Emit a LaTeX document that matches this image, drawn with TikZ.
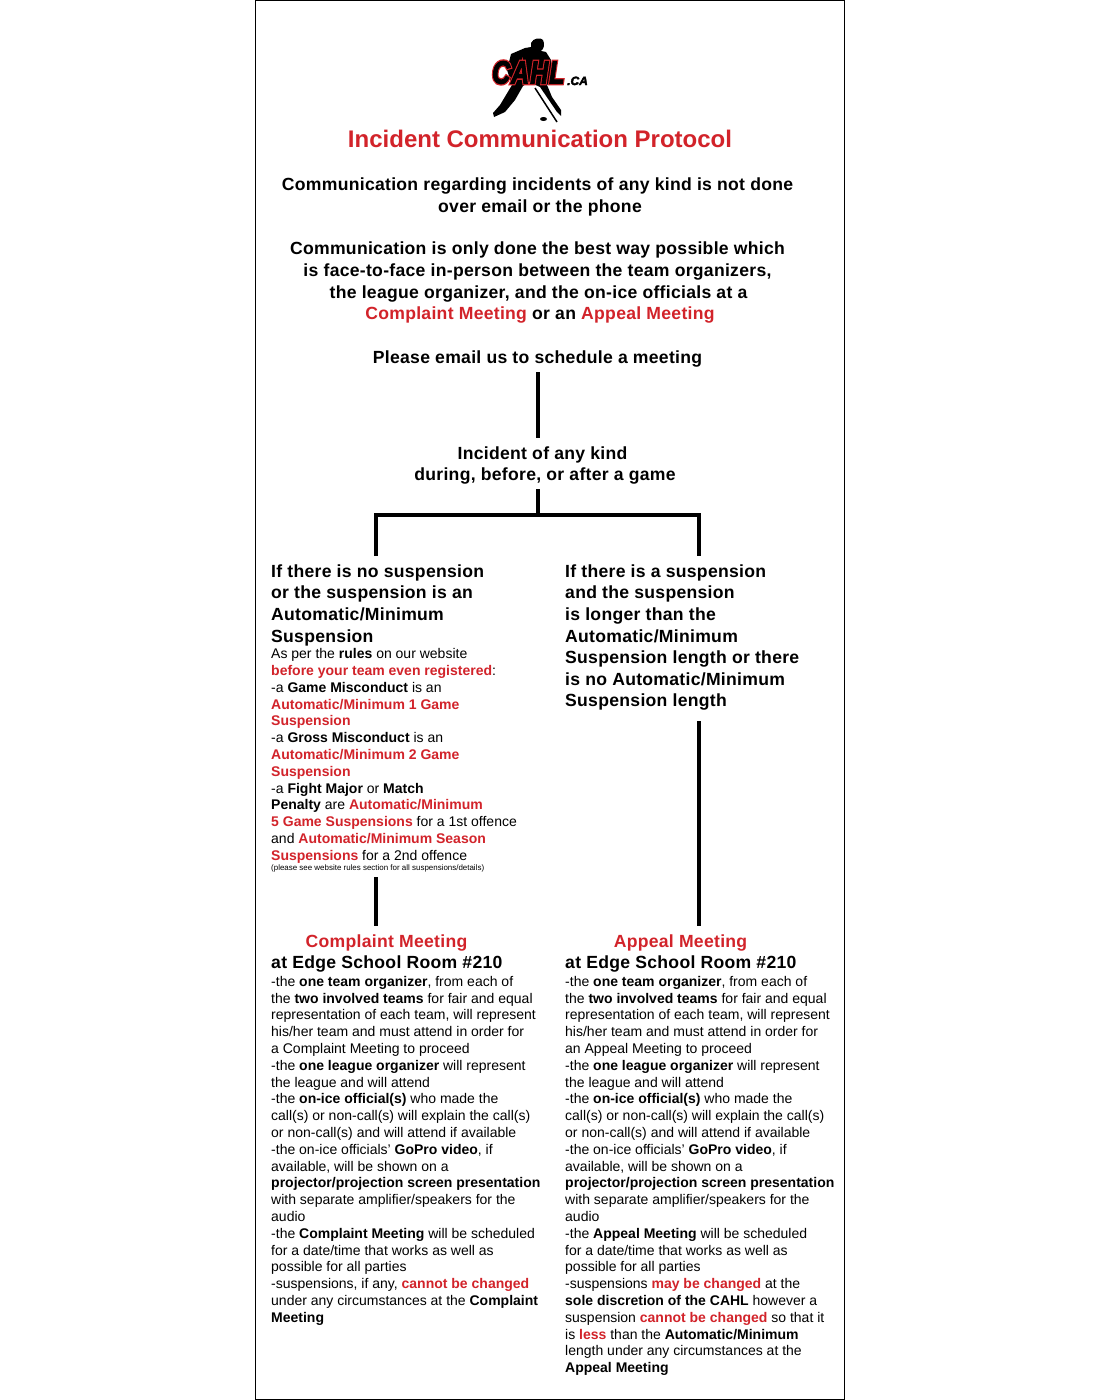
\documentclass[tikz,border=0pt]{standalone}
\usepackage{fontspec}
\setmainfont{Liberation Sans}
\newfontfamily\headfont[LetterSpace=1.6]{Liberation Sans}
\newfontfamily\logofont[LetterSpace=4]{Liberation Sans}
\definecolor{cahlred}{HTML}{D2232A}
\newcommand{\rd}[1]{{\color{cahlred}\bfseries #1}}
\newcommand{\bd}[1]{{\bfseries #1}}
\newcommand{\fb}{\rule{0pt}{20pt}}
\newcommand{\stroked}[3]{\special{pdf:code q 2 Tr #1 w #2 RG}#3\special{pdf:code 0 Tr Q}}
\tikzset{
  headtext/.style={inner sep=0pt,font=\headfont\bfseries\fontsize{17.6}{21.6}\selectfont},
  bodytext/.style={inner sep=0pt,anchor=north west,align=left,font=\fontsize{14}{16.8}\selectfont},
  heada/.style={headtext,anchor=north,align=center},
  headl/.style={headtext,anchor=north west,align=left},
  link/.style={line width=4pt,line cap=butt,draw=black},
  logotext/.style={inner sep=0pt,anchor=base west,font=\logofont\bfseries\itshape\fontsize{32}{32}\selectfont,xscale=0.78},
}
\begin{document}
\begin{tikzpicture}[x=1pt,y=-1pt]
\useasboundingbox (0,0) rectangle (1100,1400);
\fill[white] (0,0) rectangle (1100,1400);
\draw[black,line width=1pt] (255.5,0.5) rectangle (844.5,1399.5);
% logo
\fill[black] (531,43) .. controls (533,38) and (541,37) .. (543,40) .. controls (545,44) and (544,49) .. (541,51)
 -- (546,52) -- (551,60) -- (553,80) -- (547,85) -- (552,97) -- (561,110) -- (561,116) -- (557,112) -- (540,87) -- (529,82) -- (523,86) -- (515,100) -- (505,112) -- (494,117) -- (493,113) -- (500,105) -- (509,90) -- (512,85) -- (507,70) -- (511,54) -- (525,48) -- (531,47) -- cycle;
\draw[black,line width=1.5pt] (535,88) -- (557,122);
\fill[black] (543.5,119) ellipse (3.5 and 2);
\node (logoedge) [logotext,text=black] at (492,83.5) {\stroked{3.8}{0.82 0.14 0.16}{CAHL}};
\node (logoword) [logotext,text=black] at (492,83.5) {\stroked{1.1}{0 0 0}{CAHL}};
\node (logoca) [inner sep=0pt,anchor=base west,font=\bfseries\itshape\fontsize{12}{12}\selectfont] at (567,85) {\stroked{0.4}{0 0 0}{.CA}};
% title and intro
\node (title) [inner sep=0pt,anchor=base,text=cahlred,font=\bfseries\fontsize{24}{24}\selectfont] at (540,147) {Incident Communication Protocol};
\node (introa) [heada] at (537.5,170.3) {\fb Communication regarding incidents of any kind is not done\\\hspace*{5pt}over email or the phone};
\node (introb) [heada] at (537.5,234.7) {\fb Communication is only done the best way possible which\\is face-to-face in-person between the team organizers,\\\hspace*{2pt}the league organizer, and the on-ice officials at a\\\hspace*{5pt}{\color{cahlred}Complaint Meeting} or an {\color{cahlred}Appeal Meeting}};
\node (email) [heada] at (537.5,343) {\fb Please email us to schedule a meeting};
\node (incident) [heada] at (545,439) {\fb Incident of any kind\hspace*{5pt}\\during, before, or after a game};
% columns
\node (noSusp) [headl] at (271,557) {\fb If there is no suspension\\or the suspension is an\\Automatic/Minimum\\Suspension};
\node (yesSusp) [headl] at (565,557) {\fb If there is a suspension\\and the suspension\\is longer than the\\Automatic/Minimum\\Suspension length or there\\is no Automatic/Minimum\\Suspension length};
\node (rules) [bodytext] at (271,644.5) {\rule{0pt}{14pt}As per the \bd{rules} on our website\\
\rd{before your team even registered}:\\
-a \bd{Game Misconduct} is an\\
\rd{Automatic/Minimum 1 Game}\\
\rd{Suspension}\\
-a \bd{Gross Misconduct} is an\\
\rd{Automatic/Minimum 2 Game}\\
\rd{Suspension}\\
-a \bd{Fight Major} or \bd{Match}\\
\bd{Penalty} are \rd{Automatic/Minimum}\\
\rd{5 Game Suspensions} for a 1st offence\\
and \rd{Automatic/Minimum Season}\\
\rd{Suspensions} for a 2nd offence};
\node (fine) [inner sep=0pt,anchor=base west,font=\fontsize{7.95}{8}\selectfont] at (271,870) {(please see website rules section for all suspensions/details)};
% meetings
\node (cmt) [inner sep=0pt,anchor=base,text=cahlred,font=\headfont\bfseries\fontsize{17.6}{21.6}\selectfont] at (386.5,947) {Complaint Meeting};
\node (amt) [inner sep=0pt,anchor=base,text=cahlred,font=\headfont\bfseries\fontsize{17.6}{21.6}\selectfont] at (680.5,947) {Appeal Meeting};
\node (cloc) [inner sep=0pt,anchor=base west,font=\headfont\bfseries\fontsize{17.6}{21.6}\selectfont] at (271,968) {at Edge School Room \#210};
\node (aloc) [inner sep=0pt,anchor=base west,font=\headfont\bfseries\fontsize{17.6}{21.6}\selectfont] at (565,968) {at Edge School Room \#210};
\node (cbody) [bodytext] at (271,972) {\rule{0pt}{14pt}-the \bd{one team organizer}, from each of\\
the \bd{two involved teams} for fair and equal\\
representation of each team, will represent\\
his/her team and must attend in order for\\
a Complaint Meeting to proceed\\
-the \bd{one league organizer} will represent\\
the league and will attend\\
-the \bd{on-ice official(s)} who made the\\
call(s) or non-call(s) will explain the call(s)\\
or non-call(s) and will attend if available\\
-the on-ice officials' \bd{GoPro video}, if\\
available, will be shown on a\\
\bd{projector/projection screen presentation}\\
with separate amplifier/speakers for the\\
audio\\
-the \bd{Complaint Meeting} will be scheduled\\
for a date/time that works as well as\\
possible for all parties\\
-suspensions, if any, \rd{cannot be changed}\\
under any circumstances at the \bd{Complaint}\\
\bd{Meeting}};
\node (abody) [bodytext] at (565,972) {\rule{0pt}{14pt}-the \bd{one team organizer}, from each of\\
the \bd{two involved teams} for fair and equal\\
representation of each team, will represent\\
his/her team and must attend in order for\\
an Appeal Meeting to proceed\\
-the \bd{one league organizer} will represent\\
the league and will attend\\
-the \bd{on-ice official(s)} who made the\\
call(s) or non-call(s) will explain the call(s)\\
or non-call(s) and will attend if available\\
-the on-ice officials' \bd{GoPro video}, if\\
available, will be shown on a\\
\bd{projector/projection screen presentation}\\
with separate amplifier/speakers for the\\
audio\\
-the \bd{Appeal Meeting} will be scheduled\\
for a date/time that works as well as\\
possible for all parties\\
-suspensions \rd{may be changed} at the\\
\bd{sole discretion of the CAHL} however a\\
suspension \rd{cannot be changed} so that it\\
is \rd{less} than the \bd{Automatic/Minimum}\\
length under any circumstances at the\\
\bd{Appeal Meeting}};
% connectors
\coordinate (c1a) at (538,372);
\coordinate (c1b) at (538,438);
\coordinate (c2a) at (538,489);
\coordinate (fork) at (538,515);
\coordinate (fl) at (376,515);
\coordinate (fr) at (699,515);
\coordinate (fld) at (376,556);
\coordinate (frd) at (699,556);
\coordinate (c3a) at (376,877);
\coordinate (c3b) at (376,926);
\coordinate (c4a) at (699,721);
\coordinate (c4b) at (699,926);
\draw[link] (c1a) -- (c1b);
\draw[link] (c2a) -- (fork);
\draw[link,line join=miter] (fld) -- (fl) -- (fr) -- (frd);
\draw[link] (c3a) -- (c3b);
\draw[link] (c4a) -- (c4b);
\end{tikzpicture}
\end{document}
